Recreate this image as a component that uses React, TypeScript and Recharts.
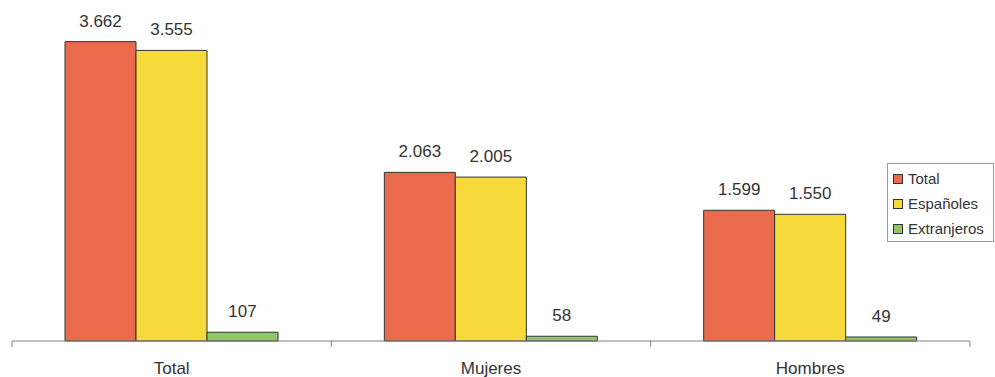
import React from "react";
import { BarChart, Bar, XAxis, YAxis, Legend, LabelList } from "recharts";

const categories = ["Total", "Mujeres", "Hombres"];
const total = [3662, 2063, 1599];
const espanoles = [3555, 2005, 1550];
const extranjeros = [107, 58, 49];

const seriesNames = ["Total", "Españoles", "Extranjeros"];
const colors = ["#EA6A4C", "#F6DA3A", "#92C46A"];

const data = categories.map((c, i) => ({
  name: c,
  total: total[i],
  espanoles: espanoles[i],
  extranjeros: extranjeros[i],
}));

const fmt = (v: number) => v.toLocaleString("de-DE");

const font = "'Liberation Sans', Arial, sans-serif";
const textColor = "#333";
const axisColor = "#808080";

function LegendBox() {
  return (
    <div
      style={{
        boxSizing: "border-box",
        border: "1px solid #9a9a9a",
        padding: "2px 0 0 5px",
        width: 107,
        height: 79,
        background: "#fff",
        fontFamily: font,
        fontSize: 15,
        color: textColor,
      }}
    >
      {seriesNames.map((n, i) => (
        <div
          key={n}
          style={{ display: "flex", alignItems: "center", height: 25 }}
        >
          <span
            style={{
              boxSizing: "border-box",
              width: 10,
              height: 10,
              background: colors[i],
              border: "1px solid #333",
              marginRight: 5,
              flexShrink: 0,
            }}
          />
          {n}
        </div>
      ))}
    </div>
  );
}

// category ticks sit on the band boundaries, labels in the middle
function CategoryTick(props: any) {
  const { x, y, payload, index } = props;
  const half = payload && payload.offset ? payload.offset : 159.7;
  return (
    <g>
      {index === 0 && (
        <line x1={x - half} y1={y} x2={x - half} y2={y + 6} stroke={axisColor} />
      )}
      <line x1={x + half} y1={y} x2={x + half} y2={y + 6} stroke={axisColor} />
      <text
        x={x}
        y={y + 33}
        textAnchor="middle"
        fontSize={17}
        fill={textColor}
        fontFamily={font}
      >
        {payload.value}
      </text>
    </g>
  );
}

const labelStyle = { fontSize: 17, fill: textColor, fontFamily: font };

export default function App() {
  return (
    <div style={{ position: "absolute", left: 0, top: 0, background: "#fff" }}>
      <BarChart
        width={995}
        height={377}
        data={data}
        margin={{ top: 14, right: 25, left: 12, bottom: 6 }}
        barCategoryGap={53}
        barGap={0}
      >
        <XAxis
          dataKey="name"
          height={30}
          tickLine={false}
          tickSize={0}
          tickMargin={0}
          axisLine={{ stroke: axisColor }}
          tick={<CategoryTick />}
          interval={0}
        />
        <YAxis hide domain={[0, 4000]} />
        <Legend
          layout="horizontal"
          verticalAlign="middle"
          align="center"
          content={() => <LegendBox />}
          wrapperStyle={{ position: "absolute", left: 887, top: 163, width: 107 }}
        />
        <Bar dataKey="total" fill={colors[0]} stroke="#333" strokeWidth={1} isAnimationActive={false}>
          <LabelList dataKey="total" position="top" offset={15} formatter={fmt} style={labelStyle} />
        </Bar>
        <Bar dataKey="espanoles" fill={colors[1]} stroke="#333" strokeWidth={1} isAnimationActive={false}>
          <LabelList dataKey="espanoles" position="top" offset={15} formatter={fmt} style={labelStyle} />
        </Bar>
        <Bar dataKey="extranjeros" fill={colors[2]} stroke="#333" strokeWidth={1} isAnimationActive={false}>
          <LabelList dataKey="extranjeros" position="top" offset={15} formatter={fmt} style={labelStyle} />
        </Bar>
      </BarChart>
    </div>
  );
}
